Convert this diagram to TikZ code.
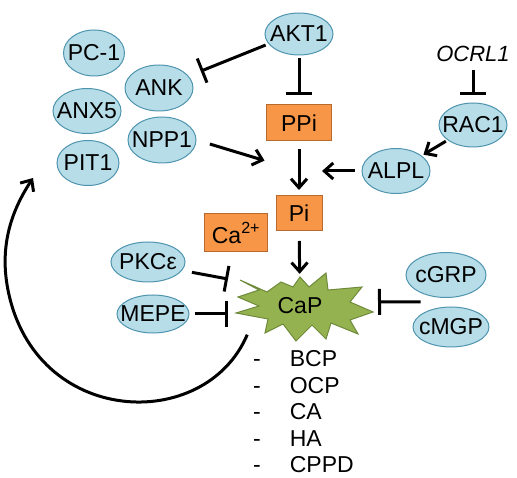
\documentclass[tikz,border=0pt]{standalone}
\usepackage{fontspec}
\setmainfont{Liberation Sans}
\usetikzlibrary{arrows.meta, positioning, shapes.geometric, calc}

\definecolor{protfill}{HTML}{B7DDE8}
\definecolor{protline}{HTML}{4F94AE}
\definecolor{ionfill}{HTML}{F79646}
\definecolor{ionline}{HTML}{B86A2E}
\definecolor{capfill}{HTML}{94B350}
\definecolor{capline}{HTML}{6E8A3A}

% centred label that does not widen its node
\newcommand{\lbl}[1]{\makebox[0pt]{#1}}

\begin{document}
\begin{tikzpicture}[
        x=1pt, y=-1pt, % picture measured in pixels, y downwards
        font=\fontsize{23}{27}\selectfont,
        prot/.style={ellipse, draw=protline, fill=protfill, line width=1pt, minimum width=68pt, minimum height=45pt, inner sep=0pt},
        ion/.style={draw=ionline, fill=ionfill, line width=1pt, minimum height=36pt, inner sep=0pt},
        act/.style={-{Straight Barb[length=9pt, width=16pt]}, line width=3pt}, % activation
        inh/.style={-{Bar[width=26pt]}, line width=3pt}, % inhibition
        item/.style={anchor=west, inner sep=0pt}
      ]
      \useasboundingbox (0,0) rectangle (517,478);

      % Nodes
      \node (AKT1) [prot, minimum height=42pt] at (299,34) {\lbl{AKT1}};
      \node (PC1) [prot, minimum width=61pt, minimum height=46pt] at (94,53) {\lbl{PC-1}};
      \node (ANK) [prot, minimum height=46pt] at (159,88) {\lbl{ANK}};
      \node (ANX5) [prot] at (87,111) {\lbl{ANX5}};
      \node (NPP1) [prot, minimum height=46pt] at (162,140) {\lbl{NPP1}};
      \node (PIT1) [prot, minimum width=62pt] at (88,163) {\lbl{PIT1}};
      \node (OCRL1) [inner sep=0pt, font=\fontsize{22}{26}\selectfont\itshape] at (473,54) {OCRL1};
      \node (RAC1) [prot, minimum height=44pt] at (473,125) {\lbl{RAC1}};
      \node (ALPL) [prot] at (396,171) {\lbl{ALPL}};
      \node (PPi) [ion, minimum width=65pt] at (299,123) {PPi};
      \node (Pi) [ion, minimum width=46pt, minimum height=35pt] at (299,213) {Pi};
      \node (Ca) [ion, minimum width=63pt, minimum height=38pt] at (236,233) {Ca\textsuperscript{2+}};
      \node (PKC) [prot, minimum width=74pt, minimum height=40pt] at (148,262) {\lbl{PKCε}};
      \node (MEPE) [prot, minimum width=72pt, minimum height=38pt] at (153,314) {\lbl{MEPE}};
      \node (cGRP) [prot, minimum width=80pt] at (446,275) {\lbl{cGRP}};
      \node (cMGP) [prot, minimum width=76pt, minimum height=40pt] at (451,327) {\lbl{cMGP}};

      % CaP burst
      \filldraw[fill=capfill, draw=capline, line width=1pt, line join=miter]
        (240,280) -- (267,292) -- (281,282) -- (293,287) -- (300,277) -- (309,287)
        -- (326,273) -- (328,290) -- (362,287) -- (350,302) -- (373,312) -- (350,320)
        -- (358,334) -- (331,323) -- (326,339) -- (312,325) -- (296,341) -- (283,324)
        -- (265,333) -- (268,319) -- (236,313) -- (259,306) -- (238,297) -- (259,290) -- cycle;
      \node (CaP) [ellipse, minimum width=140pt, minimum height=60pt, inner sep=0pt] at (300,306) {\lbl{CaP}};

      % Crystal types
      \node (bcp) [item] at (253,359) {-\hspace{29pt}BCP};
      \node (ocp) [item] at (253,385.5) {-\hspace{29pt}OCP};
      \node (ca) [item] at (253,412) {-\hspace{29pt}CA};
      \node (ha) [item] at (253,438.5) {-\hspace{29pt}HA};
      \node (cppd) [item] at (253,465) {-\hspace{29pt}CPPD};

      % Arrows
      \coordinate (hub) at (PPi.south |- ALPL.west);
      \coordinate (pkcEnd) at (228,279);
      \coordinate (mepeEnd) at (228,314);
      \coordinate (gpStart) at ($(cGRP.south west)!0.5!(cMGP.north west)$);
      \coordinate (gpEnd) at (378,302);
      \coordinate (loopEnd) at (33,178);

      \draw[inh, shorten <=3pt, shorten >=13pt] (AKT1.198) -- (ANK.22);
      \draw[inh, shorten <=3pt, shorten >=9pt] (AKT1) -- (PPi);
      \draw[inh, shorten <=8pt, shorten >=7pt] (OCRL1) -- (RAC1);
      \draw[act, shorten <=2pt, shorten >=2pt] (RAC1) -- (ALPL);
      \draw[act, shorten <=7pt, shorten >=23pt] (ALPL.west) -- (hub);
      \draw[act, shorten <=14pt, shorten >=36pt] (NPP1.east) -- (hub);
      \draw[act, shorten <=8pt, shorten >=5pt] (PPi) -- (Pi);
      \draw[act, shorten <=10pt, shorten >=2pt] (Pi) -- (CaP);
      \draw[inh, shorten <=10pt] (PKC.-14) -- (pkcEnd);
      \draw[inh, shorten <=5pt] (MEPE.east) -- (mepeEnd);
      \draw[inh] (gpStart) -- (gpEnd);
      \draw[act, shorten <=8pt] (CaP.south west) .. controls (205,434) and (35,427) .. (8,290)
        .. controls (-2,240) and (16,204) .. (loopEnd);

    \end{tikzpicture}
\end{document}
